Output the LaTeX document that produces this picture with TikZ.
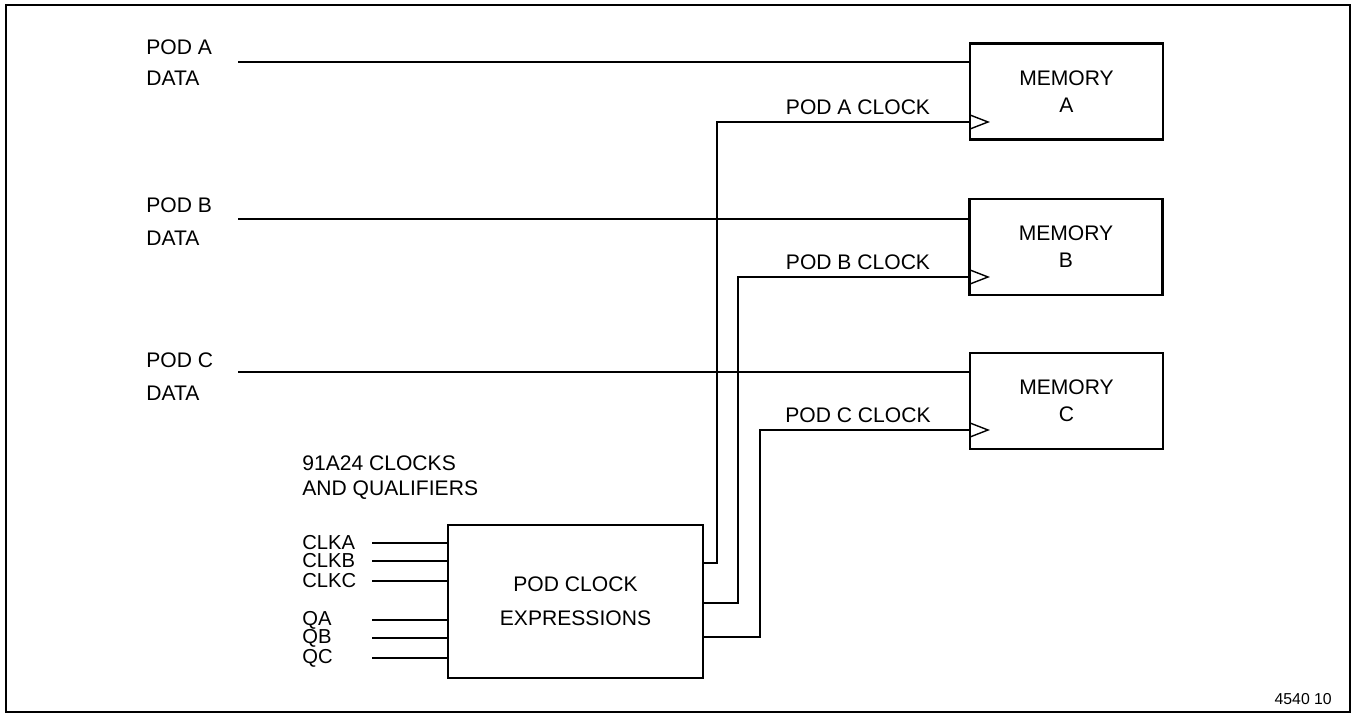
\documentclass[tikz,border=0pt]{standalone}
\usepackage{fontspec}
\setmainfont{Liberation Sans}
\usetikzlibrary{calc}

\begin{document}
\begin{tikzpicture}[x=0.02cm, y=-0.02cm, font=\fontsize{12}{14.5}\selectfont,
    memory/.style={draw, line width=1.5pt, minimum width=3.86cm, minimum height=1.92cm, align=center},
    datawire/.style={line width=1.5pt},
    clkwire/.style={line width=0.8pt},
    lbl/.style={anchor=west, inner sep=0pt}]
    \useasboundingbox (0,0) rectangle (1354,715);

    % Draw the outer frame
    \draw[line width=1pt] (6,5) rectangle (1350,712);

    % Draw the three memory blocks
    \node[memory] (memA) at (1066.5,91.5) {MEMORY\\[1pt]A};
    \node[memory] (memB) at (1066,247) {MEMORY\\[1pt]B};
    \node[memory] (memC) at (1066.5,401) {MEMORY\\[1pt]C};

    % Data lines from each pod with their labels
    \foreach \p/\y/\ya/\yb in {A/62/47/78, B/219/205/238, C/372/360/393}
    {
        \node[lbl] (pod\p) at (146,\ya) {POD \p};
        \node[lbl] (data\p) at (146,\yb) {DATA};
        \coordinate (din\p) at (238,\y);
        \draw[datawire] (din\p) -- (din\p -| mem\p.west);
    }

    % The clock expression block and its inputs
    \node[draw, line width=1.5pt, minimum width=5.1cm, minimum height=3.06cm, align=center]
        (pce) at (575.5,601.5) {POD CLOCK\\[5pt]EXPRESSIONS};
    \node[lbl] (title1) at (302,463) {91A24 CLOCKS};
    \node[lbl] (title2) at (302,490) {AND QUALIFIERS};
    \foreach \s/\y in {CLKA/543, CLKB/561, CLKC/581, QA/620, QB/638, QC/658}
    {
        \node[lbl, font=\fontsize{11.5}{12}\selectfont] (in\s) at (302,\y) {\s};
        \coordinate (w\s) at (372,\y);
        \draw[line width=0.7pt] (w\s) -- (w\s -| pce.west);
    }

    % Finally route the clocks to the memories
    \foreach \p/\yo/\xv/\yc in {A/563/717/122, B/603/738/277, C/637/760/430}
    {
        \coordinate (out\p) at (703,\yo);
        \coordinate (clk\p) at (970,\yc);
        \draw[clkwire] (out\p) -- (\xv,\yo) |- (clk\p);
        \draw[clkwire] (clk\p) ++(0,-7) -- ++(18,7) -- ++(-18,7);
        \node (ckl\p) at (858,\yc-15) {POD \p\ CLOCK};
    }

    % Figure number
    \node[anchor=east, font=\fontsize{9}{10}\selectfont] (fig) at (1338,699) {4540 10};
\end{tikzpicture}
\end{document}
